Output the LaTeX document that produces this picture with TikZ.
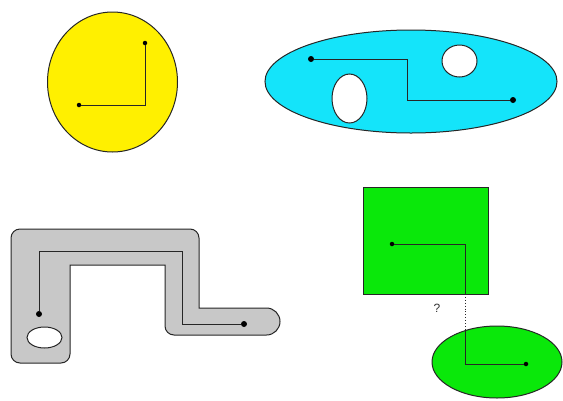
\documentclass[tikz,border=0pt]{standalone}
\usepackage{fontspec}
\setmainfont{Liberation Sans}
\begin{document}
\begin{tikzpicture}[x=1pt,y=-1pt,
  shapeline/.style={draw=black!85, line width=1pt},
  wire/.style={draw=black!85, line width=0.9pt},
  wiredot/.style={circle, fill=black, inner sep=0pt, minimum size=6pt},
  smalldot/.style={circle, fill=black, inner sep=0pt, minimum size=4.5pt}]
\definecolor{myyellow}{RGB}{255,240,0}
\definecolor{mycyan}{RGB}{20,228,250}
\definecolor{mygray}{RGB}{200,200,200}
\definecolor{mygreen}{RGB}{10,232,10}
\useasboundingbox (0,0) rectangle (563,400);
\fill[white] (0,0) rectangle (563,400);

% yellow circle
\draw[shapeline, fill=myyellow] (112.5,82) ellipse [x radius=65, y radius=70];
\node[smalldot] (y1) at (79,105) {};
\node[smalldot] (y2) at (145,43) {};
\draw[wire] (y1) -| (y2);

% cyan ellipse with holes
\draw[shapeline, fill=mycyan] (411,81.5) ellipse [x radius=146, y radius=51.5];
\draw[shapeline, fill=white] (459.5,61) ellipse [x radius=17.5, y radius=16];
\draw[shapeline, fill=white] (349.5,98.5) ellipse [x radius=17.5, y radius=24.5];
\node[wiredot] (c1) at (311,59) {};
\node[wiredot] (c2) at (513,100) {};
\coordinate (cbend) at (407,100);
\draw[wire] (c1) -| (cbend) -- (c2);

% gray shape
\draw[shapeline, fill=mygray, rounded corners=9pt]
  (11,300) -- (11,229) -- (199,229) [sharp corners] -- (199,308) -- (266.5,308)
  arc[start angle=-90, end angle=90, radius=13.5] [rounded corners=9pt]
  -- (165,335) [sharp corners] -- (165,300) -- (165,265) -- (70,265) [rounded corners=9pt] -- (70,363) -- (11,363) -- (11,300) -- cycle;
\draw[shapeline, fill=white] (44.5,337.5) ellipse [x radius=17.5, y radius=10.5];
\node[wiredot] (g1) at (39,314) {};
\node[wiredot] (g2) at (244,324) {};
\coordinate (gb1) at (182,251);
\draw[wire] (g1) |- (gb1) |- (g2);

% green rectangle and ellipse
\draw[shapeline, fill=mygreen] (363,187) rectangle (488,294);
\draw[shapeline, fill=mygreen] (497,362) ellipse [x radius=65, y radius=36];
\node[smalldot] (r1) at (392,244) {};
\node[smalldot] (e2) at (526,364) {};
\coordinate (rb) at (465,294);
\coordinate (et) at (465,330.5);
\coordinate (eb) at (465,364);
\draw[wire] (r1) -| (rb);
\draw[wire, dotted] (rb) -- (et);
\draw[wire] (et) -- (eb) -- (e2);
\node[font=\fontsize{12}{14}\selectfont, text=black!80] (q) at (437,308) {?};
\end{tikzpicture}
\end{document}
